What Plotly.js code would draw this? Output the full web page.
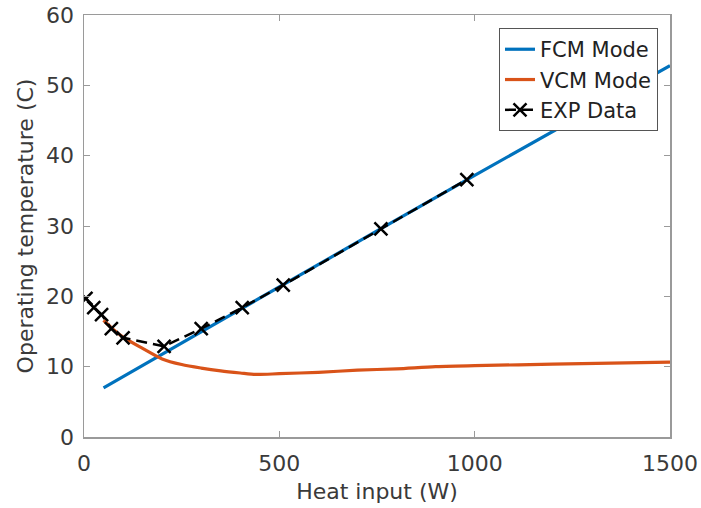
<!DOCTYPE html>
<html>
<head>
<meta charset="utf-8">
<script src="https://cdn.plot.ly/plotly-3.0.1.min.js"></script>
<style>
html, body { margin: 0; padding: 0; background: #fff; }
#chart { width: 701px; height: 508px; }
</style>
</head>
<body>
<div id="chart"></div>
<script>
// FCM Mode
var heatFCM = [50, 100, 200, 300, 400, 500, 750, 1000, 1250, 1500];
var tempFCM = [7.0, 8.6, 11.7, 15.0, 18.2, 21.3, 29.3, 37.2, 45.0, 52.8];
// VCM Mode
var heatVCM = [50, 75, 100, 150, 200, 250, 300, 350, 400, 440, 500, 600, 700, 800, 900, 1000, 1200, 1500];
var tempVCM = [16.6, 15.3, 14.2, 12.6, 11.1, 10.3, 9.8, 9.4, 9.1, 8.9, 9.0, 9.2, 9.5, 9.7, 10.0, 10.15, 10.35, 10.65];
// EXP Data
var heatEXP = [5, 25, 45, 70, 100, 205, 300, 405, 510, 760, 980];
var tempEXP = [19.7, 18.4, 17.4, 15.4, 14.1, 12.9, 15.4, 18.4, 21.6, 29.6, 36.6];

var xTicks = [0, 500, 1000, 1500];
var yTicks = [0, 10, 20, 30, 40, 50, 60];

var FONT = 'DejaVu Sans, sans-serif';
var TXT = '#3a3a3a';

var traces = [
  { x: heatFCM, y: tempFCM, name: 'FCM Mode', type: 'scatter', mode: 'lines',
    line: { color: '#0072BD', width: 3.2 } },
  { x: heatVCM, y: tempVCM, name: 'VCM Mode', type: 'scatter', mode: 'lines',
    line: { color: '#D95319', width: 3.2, shape: 'spline', smoothing: 0.8 } },
  { x: heatEXP, y: tempEXP, name: 'EXP Data', type: 'scatter', mode: 'lines+markers',
    line: { color: '#000000', width: 2.5, dash: '11px,6px' },
    marker: { symbol: 'x-thin', size: 13, color: '#000', line: { color: '#000', width: 2.5 } } }
];

var axisCommon = {
  showgrid: false, zeroline: false, showline: true, mirror: 'ticks',
  linecolor: '#9a9a9a', linewidth: 1.5,
  ticks: 'inside', ticklen: 6, tickwidth: 1, tickcolor: '#9a9a9a',
  tickfont: { family: FONT, size: 22, color: TXT }
};

var layout = {
  width: 701, height: 508,
  margin: { l: 84, r: 31, t: 15, b: 71, pad: 0 },
  paper_bgcolor: '#ffffff', plot_bgcolor: '#ffffff',
  showlegend: true,
  legend: {
    x: 0.9795, xanchor: 'right', y: 0.969, yanchor: 'top',
    bgcolor: '#ffffff', bordercolor: '#555', borderwidth: 1,
    font: { family: FONT, size: 21, color: '#222' },
    tracegroupgap: 0
  },
  xaxis: Object.assign({}, axisCommon, {
    range: [0, 1500], tickvals: xTicks, ticktext: xTicks.map(String),
    ticklabelstandoff: 6,
    title: { text: 'Heat input (W)', font: { family: FONT, size: 22, color: TXT }, standoff: 8 }
  }),
  yaxis: Object.assign({}, axisCommon, {
    range: [0, 60], tickvals: yTicks, ticktext: yTicks.map(String),
    ticklabelstandoff: 4,
    title: { text: 'Operating temperature (C)', font: { family: FONT, size: 22, color: TXT }, standoff: 6 }
  })
};

Plotly.newPlot('chart', traces, layout, { displayModeBar: false, staticPlot: true });
</script>
</body>
</html>
